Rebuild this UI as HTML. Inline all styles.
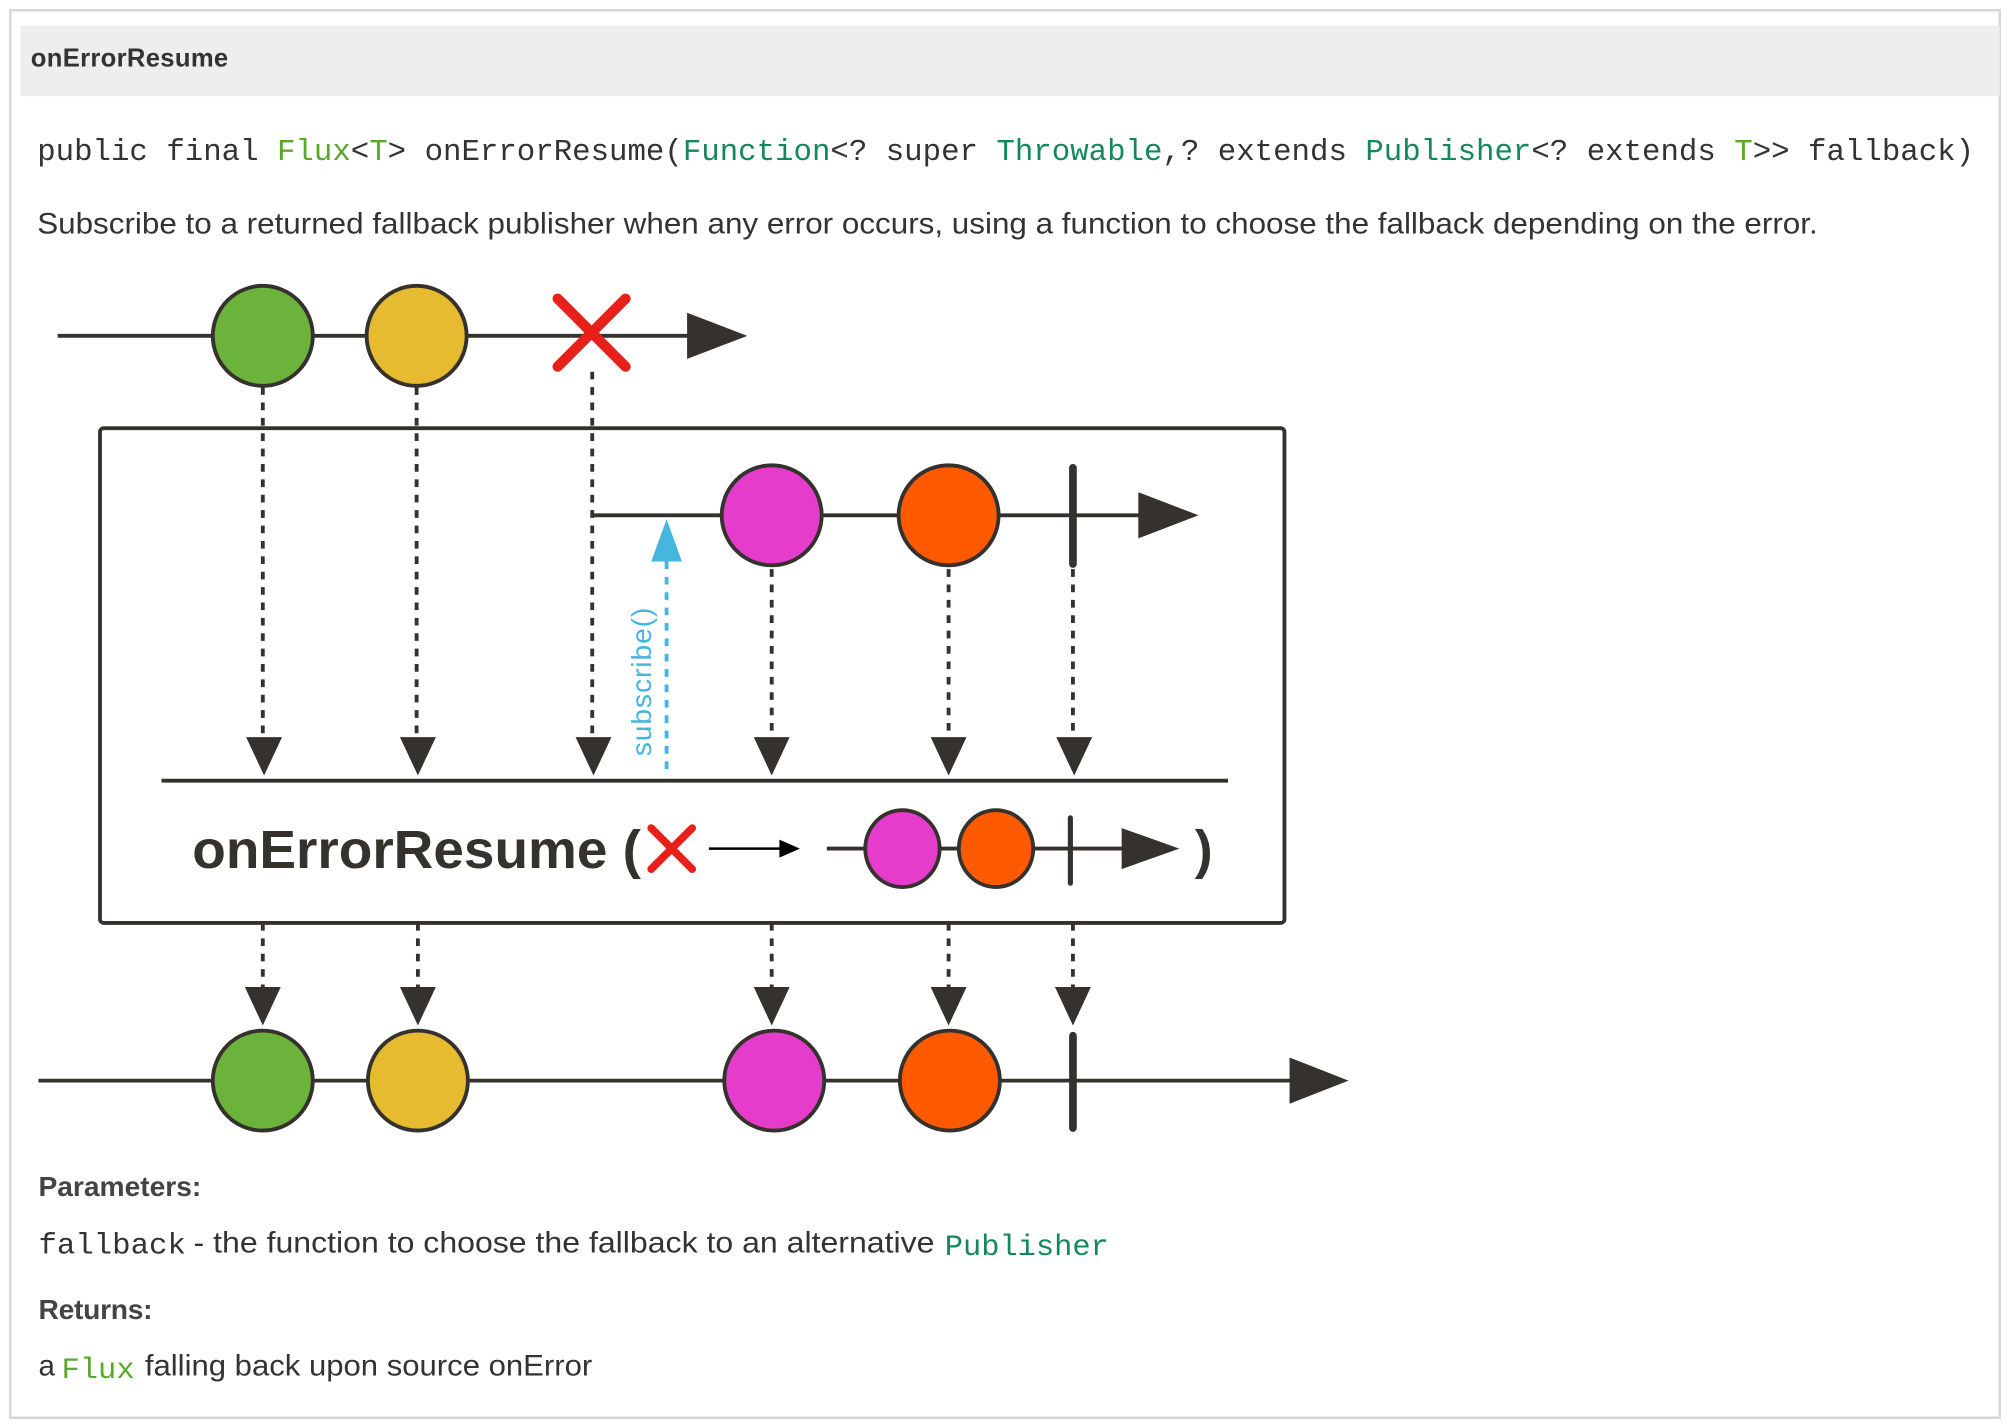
<!DOCTYPE html>
<html><head><meta charset="utf-8"><style>
html,body{margin:0;padding:0;background:#fff;width:2010px;height:1428px;overflow:hidden}
svg{display:block}
.s{font-family:"Liberation Sans",sans-serif}
.m{font-family:"Liberation Mono",monospace}
</style></head><body>
<svg width="2010" height="1428" viewBox="0 0 1568 1114" xmlns="http://www.w3.org/2000/svg">
<defs>
<g id="dn"><polygon points="-14,0 14,0 0,30" fill="#35322d"/></g>
</defs>
<rect x="8" y="8" width="1552" height="1098" fill="#fff" stroke="#d8d8d8" stroke-width="2"/>
<rect x="16" y="20" width="1544" height="55" fill="#eeeeee"/>
<text x="24" y="52" class="s" fill="#333" font-size="20" font-weight="bold" textLength="154">onErrorResume</text>
<text x="29" y="125" class="m" fill="#333" font-size="24" textLength="1511" lengthAdjust="spacingAndGlyphs">public final <tspan style="fill:#5aa829">Flux</tspan>&lt;<tspan style="fill:#5aa829">T</tspan>&gt; onErrorResume(<tspan style="fill:#14885c">Function</tspan>&lt;? super <tspan style="fill:#14885c">Throwable</tspan>,? extends <tspan style="fill:#14885c">Publisher</tspan>&lt;? extends <tspan style="fill:#5aa829">T</tspan>&gt;&gt; fallback)</text>
<text x="29" y="182" class="s" fill="#333" font-size="23" textLength="1389" lengthAdjust="spacingAndGlyphs">Subscribe to a returned fallback publisher when any error occurs, using a function to choose the fallback depending on the error.</text>

<g stroke="#35322d" fill="none">
<line x1="45" y1="262" x2="545" y2="262" stroke-width="3"/>
<rect x="78" y="334" width="924" height="386" rx="3" stroke-width="3"/>
<line x1="462" y1="402" x2="895" y2="402" stroke-width="3"/>
<line x1="126" y1="609" x2="958" y2="609" stroke-width="3"/>
<line x1="30" y1="843" x2="1010" y2="843" stroke-width="3"/>
<g stroke-width="3" stroke-dasharray="6,6">
<line x1="205" y1="302" x2="205" y2="576"/>
<line x1="325" y1="302" x2="325" y2="576"/>
<line x1="462" y1="290" x2="462" y2="576"/>
<line x1="602" y1="444" x2="602" y2="576"/>
<line x1="740" y1="444" x2="740" y2="576"/>
<line x1="837" y1="444" x2="837" y2="576"/>
<line x1="205" y1="720" x2="205" y2="772"/>
<line x1="326" y1="720" x2="326" y2="772"/>
<line x1="602" y1="720" x2="602" y2="772"/>
<line x1="740" y1="720" x2="740" y2="772"/>
<line x1="837" y1="720" x2="837" y2="772"/>
</g>
<line x1="520" y1="438" x2="520" y2="605" stroke="#45b6de" stroke-width="3" stroke-dasharray="6,6"/>
<line x1="645" y1="662" x2="880" y2="662" stroke-width="3"/>
<line x1="553" y1="662" x2="610" y2="662" stroke="#000" stroke-width="2"/>
</g>
<g fill="#35322d">
<polygon points="536,244 583,262 536,280"/>
<polygon points="888,384 935,402 888,420"/>
<polygon points="1006,825 1052,843 1006,861"/>
<polygon points="875,646 920,662 875,678"/>
<polygon points="608,655 624,662 608,669" fill="#000"/>
<use href="#dn" x="206" y="575"/><use href="#dn" x="326" y="575"/><use href="#dn" x="463" y="575"/>
<use href="#dn" x="602" y="575"/><use href="#dn" x="740" y="575"/><use href="#dn" x="838" y="575"/>
<use href="#dn" x="205" y="770"/><use href="#dn" x="326" y="770"/><use href="#dn" x="602" y="770"/>
<use href="#dn" x="740" y="770"/><use href="#dn" x="837" y="770"/>
<rect x="834" y="362" width="6" height="81" rx="3"/>
<rect x="834" y="805" width="6" height="78" rx="3"/>
<rect x="833" y="636" width="4" height="55" rx="2"/>
</g>
<polygon points="508,438 520,405 532,438" fill="#45b6de"/>
<g stroke="#35322d" stroke-width="3">
<circle cx="205" cy="262" r="39" fill="#6bb33b"/>
<circle cx="325" cy="262" r="39" fill="#e6bb30"/>
<circle cx="602" cy="402" r="39" fill="#e63ccc"/>
<circle cx="740" cy="402" r="39" fill="#ff5a00"/>
<circle cx="205" cy="843" r="39" fill="#6bb33b"/>
<circle cx="326" cy="843" r="39" fill="#e6bb30"/>
<circle cx="604" cy="843" r="39" fill="#e63ccc"/>
<circle cx="741" cy="843" r="39" fill="#ff5a00"/>
<ellipse cx="704" cy="662" rx="29" ry="30" fill="#e63ccc"/>
<ellipse cx="777" cy="662" rx="29" ry="30" fill="#ff5a00"/>
</g>
<g stroke="#e8201a" stroke-width="8" stroke-linecap="round">
<line x1="435" y1="233" x2="488" y2="286"/><line x1="488" y1="233" x2="435" y2="286"/>
</g>
<g stroke="#e8201a" stroke-width="6" stroke-linecap="round">
<line x1="508" y1="646" x2="540" y2="678"/><line x1="540" y1="646" x2="508" y2="678"/>
</g>
<text x="150" y="677" class="s" font-size="42" font-weight="bold" fill="#35322d" textLength="350" lengthAdjust="spacingAndGlyphs">onErrorResume (</text>
<text x="932" y="677" class="s" font-size="42" font-weight="bold" fill="#35322d">)</text>
<text transform="translate(508,590) rotate(-90)" font-family="Liberation Sans,sans-serif" font-size="22" fill="#45b6de" textLength="116">subscribe()</text>

<text x="30" y="933" class="s" font-size="22" font-weight="bold" fill="#444" textLength="127">Parameters:</text>
<text x="30" y="978" class="m" font-size="23" fill="#333" textLength="115" lengthAdjust="spacingAndGlyphs">fallback</text>
<text x="151" y="977" class="s" font-size="23" fill="#333" textLength="578" lengthAdjust="spacingAndGlyphs">- the function to choose the fallback to an alternative</text>
<text x="737" y="979" class="m" font-size="23" fill="#14885c" textLength="128" lengthAdjust="spacingAndGlyphs">Publisher</text>
<text x="30" y="1029" class="s" font-size="22" font-weight="bold" fill="#444" textLength="89">Returns:</text>
<text x="30" y="1073" class="s" font-size="23" fill="#333">a</text>
<text x="48" y="1075" class="m" font-size="23" fill="#5aa829" textLength="57" lengthAdjust="spacingAndGlyphs">Flux</text>
<text x="113" y="1073" class="s" font-size="23" fill="#333" textLength="349" lengthAdjust="spacingAndGlyphs">falling back upon source onError</text>
</svg>
</body></html>
